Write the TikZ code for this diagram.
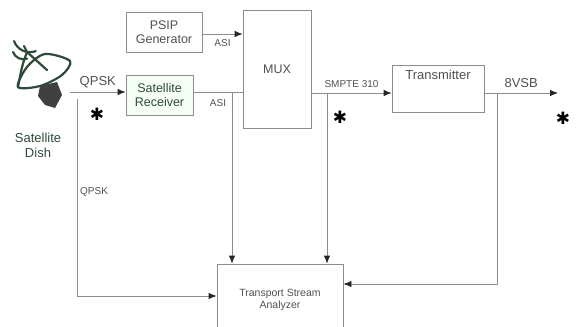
\documentclass[tikz,border=0pt]{standalone}
\usepackage{fontspec}
\setmainfont{Liberation Sans}
\newfontfamily\symfont{DejaVu Sans}
\usetikzlibrary{arrows.meta}

\definecolor{linegray}{HTML}{8C8C8C}
\definecolor{textgray}{HTML}{505050}
\definecolor{dishgreen}{HTML}{2E4A3A}

\begin{document}
\begin{tikzpicture}[x=1pt,y=-1pt,
  box/.style={draw=linegray,line width=0.8pt,inner sep=0pt,align=center,
    text=textgray,font=\fontsize{12.5}{14}\selectfont},
  sig/.style={draw=linegray,line width=0.8pt,
    -{Latex[length=8pt,width=6.5pt,color=black!85]}},
  lbl/.style={text=textgray,font=\fontsize{10}{12}\selectfont,inner sep=1pt},
  biglbl/.style={text=textgray,font=\fontsize{13}{15}\selectfont,inner sep=1pt},
  star/.style={font=\symfont\fontsize{17}{17}\selectfont,inner sep=0pt}]
  \useasboundingbox (0,0) rectangle (585,326);
  \clip (0,0) rectangle (585,326);

  % blocks
  \node[box,minimum width=76pt,minimum height=40pt] (psip) at (164,32) {PSIP\\Generator};
  \node[box,minimum width=67pt,minimum height=40pt,fill=green!4,
    text=dishgreen] (rx) at (159.5,95) {Satellite\\Receiver};
  \node[box,minimum width=68pt,minimum height=118pt] (mux) at (277,69) {MUX};
  \node[box,minimum width=92pt,minimum height=47pt,
    label={[anchor=north,inner sep=5pt,text=textgray,
      font=\fontsize{13}{15}\selectfont]north:Transmitter}] (tx) at (438,88.5) {};
  \node[box,minimum width=126pt,minimum height=72pt,
    font=\fontsize{10.5}{12.5}\selectfont] (tsa) at (280,300) {Transport Stream\\Analyzer};

  % satellite dish
  \begin{scope}[dishgreen,line width=2.2pt,line cap=round]
    \fill[black!75] (40,86) -- (57,82) -- (62,95) -- (55,108) -- (45,105) -- (38,96) -- cycle;
    \draw plot[smooth cycle] coordinates {(18,87) (27,67) (45,54) (70,61) (62,75) (40,86)};
    \draw (27,52) -- (47,70);
    \draw (27,52) .. controls (22,66) .. (18,87);
    \draw (24,46) -- (27,52);
    \draw (13,52) arc (200:290:11pt);
    \draw (14,41) arc (200:290:17pt);
  \end{scope}
  \node[biglbl,text=dishgreen,align=center] (dishlbl) at (38,145) {Satellite\\Dish};
  \coordinate (dish) at (70,92);
  \coordinate (out) at (558,93);

  % signal paths
  \draw[sig] (dish) -- node[biglbl,above=3pt] {QPSK} (rx.west |- dish);
  \draw[sig] (psip.east |- 0,34) -- node[lbl,below=4pt] {ASI} (mux.west |- 0,34);
  \draw[draw=linegray,line width=0.8pt] (rx.east |- 0,92) -- node[lbl,below=6pt] {ASI} (mux.west |- 0,92);
  \draw[sig] (232,92) -- (tsa.north -| 232,0);
  \draw[sig] (mux.east |- 0,93) -- node[lbl,above=4pt] {SMPTE 310} (tx.west |- 0,93);
  \draw[sig] (327,93) -- (tsa.north -| 327,0);
  \draw[sig] (tx.east |- out) -- node[biglbl,above=4pt] {8VSB} (out);
  \draw[sig] (497,93) -- (497,284) -- (tsa.east |- 0,284);
  \draw[sig] (77,99) -- (77,296) -- (tsa.west |- 0,296);
  \node[lbl,anchor=west] (qpsk2) at (79,192) {QPSK};

  % test points
  \node[star] (tp1) at (97,114) {✱};
  \node[star] (tp2) at (340,117) {✱};
  \node[star] (tp3) at (563,118) {✱};
\end{tikzpicture}
\end{document}
